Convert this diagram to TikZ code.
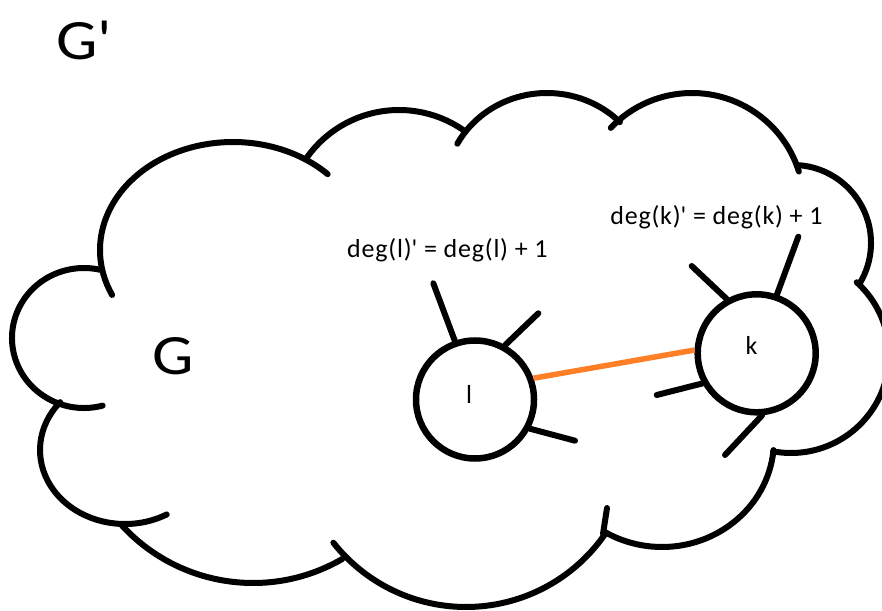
\documentclass[tikz,border=0pt]{standalone}
\usepackage{fontspec}
\setmainfont{Carlito}
\newfontfamily\labelfont[LetterSpace=3]{Carlito}
\newfontfamily\namefont[FakeStretch=1.15]{Carlito}
\definecolor{paintorange}{RGB}{255,127,39}

% one bump of the cloud outline: centre x, centre y, x radius, y radius, start and end angle
\newcommand{\cloudarc}[6]{%
  \draw[cloudline] (#1,#2) ++(#5:#3pt and #4pt)
    arc[start angle=#5, end angle=#6, x radius=#3pt, y radius=#4pt];}

\begin{document}
\begin{tikzpicture}[x=1pt, y=1pt,
  cloudline/.style={line width=6pt, line cap=round, draw=black},
  vertex/.style={circle, draw=black, line width=6.5pt, minimum size=118pt, inner sep=0pt},
  stub/.style={line width=6pt, line cap=round, draw=black},
  newedge/.style={line width=5.5pt, draw=paintorange},
  vname/.style={inner sep=0pt, font=\fontsize{26}{30}\selectfont},
  eqlabel/.style={inner sep=0pt, anchor=base west, font=\labelfont\fontsize{26}{30}\selectfont},
  graphname/.style={inner sep=0pt, anchor=base west, font=\namefont\fontsize{57}{60}\selectfont}]

\path[use as bounding box, clip] (0,0) rectangle (882,610);
\fill[white] (0,0) rectangle (882,610);

% cloud outline, clockwise from the upper left
\cloudarc{233}{360}{133}{108}{204.6}{44.6}
\cloudarc{399}{387}{113}{113}{144.8}{54}
\cloudarc{547}{420}{102}{97}{151.5}{44.4}
\cloudarc{692}{405}{112}{112}{136.5}{17.4}
\cloudarc{793}{367}{78}{78}{87}{-31}
\cloudarc{791}{255}{98}{98}{47.9}{-100.5}
\cloudarc{662}{170}{112}{107}{-5.4}{-120.7}
\cloudarc{466}{172}{169}{169}{-34.7}{-141.7}
\draw[cloudline] (603,76) -- (607,102);
\cloudarc{253}{205}{178}{178}{-59.9}{-137.9}
\cloudarc{125}{160}{85}{74}{-60.6}{-220.3}
\cloudarc{84}{272}{72}{70}{-75}{-283}

% graph names
\node[graphname] (gprime) at (56,550) {G\textquotesingle};
\node[graphname] (gname) at (152,235) {G};

% the two vertices
\node[vertex] (l) at (475,210.5) {};
\node[vertex] (k) at (756.7,256.7) {};
\node[vname, anchor=base] (lname) at (469.2,206) {l};
\node[vname, anchor=base] (kname) at (751.5,255) {k};

% loose ends of the existing edges
\coordinate (la) at (433.3,326.7);
\coordinate (lb) at (538.3,296.7);
\coordinate (lc) at (575,169.3);
\coordinate (ka) at (691.7,344);
\coordinate (kb) at (798.3,373.3);
\coordinate (kc) at (656.7,215);
\coordinate (kd) at (725,155);

\draw[stub] (l.109) -- (la);
\draw[stub] (l.61) -- (lb);
\draw[stub] (l.-28) -- (lc);
\draw[stub] (k.119) -- (ka);
\draw[stub] (k.71) -- (kb);
\draw[stub] (k.209) -- (kc);
\draw[stub] (k.-85) -- (kd);

% the added edge
\draw[newedge] (l.20) -- (k.177);

% degree labels
\node[eqlabel] (degl) at (347,352) {deg(l)\textquotesingle\ = deg(l) + 1};
\node[eqlabel] (degk) at (610.2,385) {deg(k)\textquotesingle\ = deg(k) + 1};
\end{tikzpicture}
\end{document}
